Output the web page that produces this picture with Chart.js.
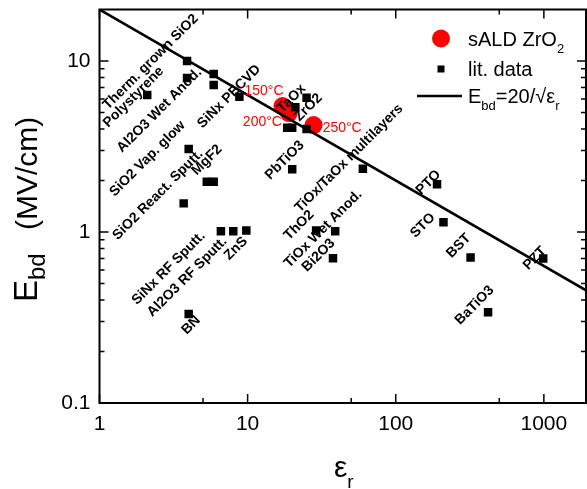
<!DOCTYPE html>
<html>
<head>
<meta charset="utf-8">
<script src="https://cdn.jsdelivr.net/npm/chart.js@4.4.0/dist/chart.umd.min.js"></script>
<style>
html, body { margin: 0; padding: 0; background: #fff; }
#c { display: block; }
</style>
</head>
<body>
<canvas id="c" width="587" height="489"></canvas>
<script>
const FONT = "'Liberation Sans', Arial, sans-serif";

// literature data: relative permittivity and breakdown field (MV/cm)
const litEps = [2.1, 3.9, 3.9, 5.9, 5.9, 8.8, 21, 25, 18.5, 20, 25, 4.0, 5.3, 5.9, 20, 3.7, 6.6, 8.0, 9.8, 4.0, 60, 190, 210, 29, 39, 37.7, 320, 990, 420];
const litEbd = [6.33, 10, 7.95, 8.39, 7.24, 6.18, 5.36, 6.1, 4.07, 4.07, 4.0, 3.06, 1.97, 1.97, 2.33, 1.47, 1.01, 1.01, 1.02, 0.331, 2.34, 1.9, 1.14, 1.02, 1.01, 0.702, 0.71, 0.70, 0.339];

// sALD ZrO2 films
const saldEps = [17.2, 19.0, 27.9];
const saldEbd = [5.45, 4.96, 4.22];
const saldTemps = ['150°C', '200°C', '250°C'];

// E_bd = 20/sqrt(eps_r), end points of the line
const fitEps = [1, 1925];
const fitEbd = [20, 0.456];

// material names and the lit. point each one belongs to
const labelText = ['Therm. grown SiO2', 'Polystyrene', 'Al2O3 Wet Anod.', 'SiNx PECVD', 'TaOx', 'ZrO2',
  'SiO2 Vap. glow', 'SiO2 React. Sputt.', 'MgF2', 'PbTiO3', 'SiNx RF Sputt.', 'Al2O3 RF Sputt.', 'ZnS', 'BN',
  'TiOx/TaOx multilayers', 'ThO2', 'TiOx Wet Anod.', 'Bi2O3', 'PTO', 'STO', 'BST', 'PZT', 'BaTiO3'];
const labelPoint = [1, 0, 2, 5, 6, 7, 11, 15, 12, 14, 16, 17, 18, 19, 20, 23, 24, 25, 21, 22, 26, 27, 28];

const xTicks = [1, 10, 100, 1000];
const xMinor = [5, 50, 500];
const yTicks = [0.1, 1, 10];
const yMinor = [0.2, 0.3, 0.4, 0.5, 0.6, 0.7, 0.8, 0.9, 2, 3, 4, 5, 6, 7, 8, 9];

// label placement (pixel offset of the text start from its point)
const labelOffset = [[-79, 49], [-39, 33], [-65, 75], [-37, 32], [-13, 6], [-7, 24],
  [-74, 48], [-66, 37], [-10, -6], [-22, 11], [-84, 74], [-81, 86], [-17, 30], [-2, 21],
  [-63, 44], [-27, 10], [-46, 37], [-26, 14], [-16, 11], [-28, 16], [-19, 1], [-15, 12], [-28, 13]];
const tempOffset = [[1, -11, 'right'], [-7, 13, 'right'], [9, 7, 'left']];

// frame with inward ticks on all four sides
const frame = {
  id: 'frame',
  afterDatasetsDraw(chart) {
    const { ctx, chartArea: a, scales: { x, y } } = chart;
    ctx.save();
    ctx.strokeStyle = '#000';
    ctx.lineWidth = 1.5;
    ctx.beginPath();
    const tx = (v, len) => {
      const px = x.getPixelForValue(v);
      ctx.moveTo(px, a.bottom); ctx.lineTo(px, a.bottom - len);
      ctx.moveTo(px, a.top); ctx.lineTo(px, a.top + len);
    };
    const ty = (v, len) => {
      const py = y.getPixelForValue(v);
      ctx.moveTo(a.left, py); ctx.lineTo(a.left + len, py);
      ctx.moveTo(a.right, py); ctx.lineTo(a.right - len, py);
    };
    xTicks.forEach(v => tx(v, 9));
    xMinor.forEach(v => tx(v, 5));
    yTicks.forEach(v => ty(v, 9));
    yMinor.forEach(v => ty(v, 5));
    ctx.stroke();
    ctx.lineWidth = 2;
    ctx.strokeRect(a.left, a.top, a.right - a.left, a.bottom - a.top);
    ctx.restore();
  }
};

// material names (rotated) and deposition temperatures
const names = {
  id: 'names',
  afterDatasetsDraw(chart) {
    const { ctx, scales: { x, y } } = chart;
    ctx.save();
    ctx.fillStyle = '#000';
    ctx.font = 'bold 14px ' + FONT;
    ctx.textAlign = 'left';
    ctx.textBaseline = 'alphabetic';
    labelText.forEach((t, i) => {
      const p = labelPoint[i];
      const px = x.getPixelForValue(litEps[p]) + labelOffset[i][0];
      const py = y.getPixelForValue(litEbd[p]) + labelOffset[i][1];
      ctx.save();
      ctx.translate(px, py);
      ctx.rotate(-Math.PI / 4);
      ctx.fillText(t, 0, 0);
      ctx.restore();
    });
    ctx.fillStyle = '#ff0000';
    ctx.font = '14px ' + FONT;
    saldTemps.forEach((t, i) => {
      ctx.textAlign = tempOffset[i][2];
      ctx.fillText(t, x.getPixelForValue(saldEps[i]) + tempOffset[i][0], y.getPixelForValue(saldEbd[i]) + tempOffset[i][1]);
    });
    ctx.restore();
  }
};

// text with a subscript part
function subText(ctx, parts, x, y) {
  parts.forEach(([s, sub]) => {
    ctx.font = (sub ? sub.size : ctx._base) + 'px ' + FONT;
    ctx.fillText(s, x, y + (sub ? sub.dy : 0));
    x += ctx.measureText(s).width;
  });
  return x;
}

const extras = {
  id: 'extras',
  afterDraw(chart) {
    const { ctx, chartArea: a } = chart;
    ctx.save();
    ctx.fillStyle = '#000';
    ctx.textAlign = 'left';
    ctx.textBaseline = 'alphabetic';

    // legend
    const lx = a.right - 145, tx = a.right - 118;
    ctx.fillStyle = '#ff0000';
    ctx.beginPath(); ctx.arc(lx, a.top + 29, 9, 0, Math.PI * 2); ctx.fill();
    ctx.fillStyle = '#000';
    ctx.fillRect(lx - 3.5, a.top + 56, 7, 7);
    ctx.lineWidth = 2.5;
    ctx.beginPath(); ctx.moveTo(lx - 24, a.top + 86.5); ctx.lineTo(lx + 21, a.top + 86.5); ctx.stroke();
    ctx._base = 20;
    subText(ctx, [['sALD ZrO'], ['2', { size: 13, dy: 7 }]], tx, a.top + 36);
    subText(ctx, [['lit. data']], tx, a.top + 66);
    subText(ctx, [['E'], ['bd', { size: 13, dy: 7 }], ['=20/\u221A\u03B5'], ['r', { size: 13, dy: 7 }]], tx, a.top + 93);

    // x title
    ctx._base = 30;
    subText(ctx, [['\u03B5'], ['r', { size: 19, dy: 11 }]], 334, 477);

    // y title
    ctx.save();
    ctx.translate(37, 302);
    ctx.rotate(-Math.PI / 2);
    ctx._base = 33;
    subText(ctx, [['E'], ['bd', { size: 24, dy: 8 }]], 0, 0);
    ctx.font = '30px ' + FONT;
    ctx.fillText('(MV/cm)', 72, 0);
    ctx.restore();
    ctx.restore();
  }
};

// keep the plot box fixed: no extra room for the edge tick labels
const noPad = s => { s.paddingTop = 0; s.paddingBottom = 0; s.paddingLeft = 0; s.paddingRight = 0; };

new Chart(document.getElementById('c'), {
  type: 'scatter',
  data: {
    datasets: [
      {
        label: 'lit. data',
        data: litEps.map((v, i) => ({ x: v, y: litEbd[i] })),
        pointStyle: 'rect',
        pointRadius: 6,
        backgroundColor: '#000',
        borderWidth: 0
      },
      {
        label: 'fit',
        data: fitEps.map((v, i) => ({ x: v, y: fitEbd[i] })),
        showLine: true,
        borderColor: '#000',
        borderWidth: 2.5,
        pointRadius: 0
      },
      {
        label: 'sALD ZrO2',
        data: saldEps.map((v, i) => ({ x: v, y: saldEbd[i] })),
        pointStyle: 'circle',
        pointRadius: 9,
        backgroundColor: '#ff0000',
        borderWidth: 0
      }
    ]
  },
  options: {
    responsive: false,
    animation: false,
    devicePixelRatio: 1,
    layout: { autoPadding: false, padding: { top: 9.5, right: 1, left: 0, bottom: 0 } },
    plugins: { legend: { display: false }, tooltip: { enabled: false } },
    scales: {
      x: {
        type: 'logarithmic',
        min: 1,
        max: 1925,
        afterBuildTicks: s => { s.ticks = xTicks.map(v => ({ value: v })); },
        afterFit: s => { s.height = 86; noPad(s); },
        grid: { display: false, drawTicks: false },
        border: { display: false },
        ticks: { color: '#000', font: { family: FONT, size: 21 }, padding: 9, maxRotation: 0, callback: v => String(v) }
      },
      y: {
        type: 'logarithmic',
        min: 0.1,
        max: 20,
        afterBuildTicks: s => { s.ticks = yTicks.map(v => ({ value: v })); },
        afterFit: s => { s.width = 99.5; noPad(s); },
        grid: { display: false, drawTicks: false },
        border: { display: false },
        ticks: { color: '#000', font: { family: FONT, size: 21 }, padding: 9, callback: v => String(v) }
      }
    }
  },
  plugins: [frame, names, extras]
});
</script>
</body>
</html>
